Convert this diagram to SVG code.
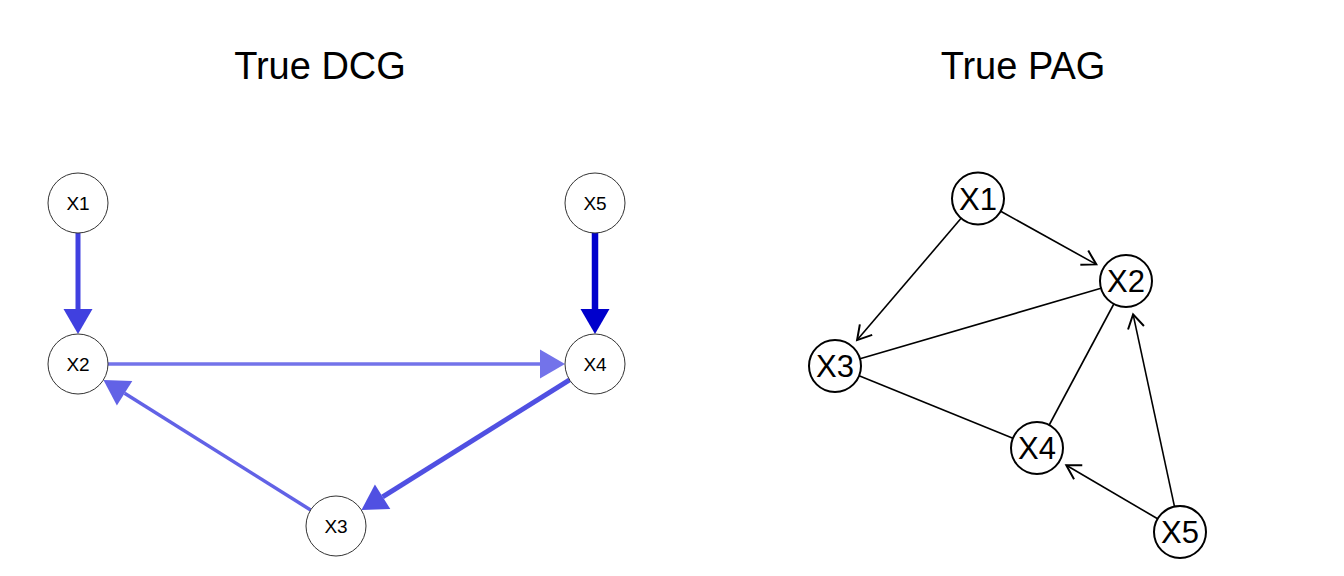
<svg xmlns="http://www.w3.org/2000/svg" width="1344" height="576" viewBox="0 0 1344 576">
<style>
text{font-family:"Liberation Sans",Arial,sans-serif;fill:#000;text-anchor:middle}
.title{font-size:38px}
.ln{font-size:19px}
.rn{font-size:31px}
.lc{fill:#fff;stroke:#333;stroke-width:1}
.rc{fill:#fff;stroke:#000;stroke-width:2}
.pe{stroke:#000;stroke-width:1.6;fill:none}
</style>
<defs>
<marker id="ah1" markerUnits="userSpaceOnUse" markerWidth="30" markerHeight="30" viewBox="0 -15 25 30" refX="0" refY="0" orient="auto" overflow="visible"><path d="M0,-14.5 L25,0 L0,14.5 z" fill="#4040E0"/></marker>
<marker id="ah2" markerUnits="userSpaceOnUse" markerWidth="30" markerHeight="30" viewBox="0 -15 25 30" refX="0" refY="0" orient="auto" overflow="visible"><path d="M0,-14.5 L25,0 L0,14.5 z" fill="#0000CC"/></marker>
<marker id="ah3" markerUnits="userSpaceOnUse" markerWidth="30" markerHeight="30" viewBox="0 -15 25 30" refX="0" refY="0" orient="auto" overflow="visible"><path d="M0,-14.5 L25,0 L0,14.5 z" fill="#7373EA"/></marker>
<marker id="ah4" markerUnits="userSpaceOnUse" markerWidth="30" markerHeight="30" viewBox="0 -15 25 30" refX="0" refY="0" orient="auto" overflow="visible"><path d="M0,-14.5 L25,0 L0,14.5 z" fill="#5050E2"/></marker>
<marker id="ah5" markerUnits="userSpaceOnUse" markerWidth="30" markerHeight="30" viewBox="0 -15 25 30" refX="0" refY="0" orient="auto" overflow="visible"><path d="M0,-14.5 L25,0 L0,14.5 z" fill="#6262E6"/></marker>
<marker id="open" markerUnits="userSpaceOnUse" markerWidth="20" markerHeight="20" viewBox="-12 -8 14 16" refX="0" refY="0" orient="auto" overflow="visible"><path d="M-11,-6.5 L0,0 L-11,6.5" fill="none" stroke="#000" stroke-width="1.6"/></marker>
</defs>
<rect width="1344" height="576" fill="#fff"/>
<text class="title" x="320" y="79">True DCG</text>
<text class="title" x="1023" y="79">True PAG</text>
<g id="connectors">
<line x1="78" y1="233" x2="78" y2="309" stroke="#4040E0" stroke-width="5" marker-end="url(#ah1)"/>
<line x1="595" y1="233" x2="595" y2="309" stroke="#0000CC" stroke-width="6.5" marker-end="url(#ah2)"/>
<line x1="108" y1="364" x2="540" y2="364" stroke="#7373EA" stroke-width="3.5" marker-end="url(#ah3)"/>
<line x1="569.6" y1="379.9" x2="382.6" y2="496.8" stroke="#5050E2" stroke-width="5" marker-end="url(#ah4)"/>
<line x1="310.6" y1="510" x2="124.6" y2="393.3" stroke="#6262E6" stroke-width="3.5" marker-end="url(#ah5)"/>
<line class="pe" x1="1000.7" y1="211.2" x2="1096.3" y2="264.4" marker-end="url(#open)"/>
<line class="pe" x1="961.1" y1="218.3" x2="857.1" y2="340.1" marker-end="url(#open)"/>
<line class="pe" x1="1174.5" y1="506.6" x2="1133.1" y2="314.3" marker-end="url(#open)"/>
<line class="pe" x1="1157.6" y1="518.8" x2="1066.3" y2="465.2" marker-end="url(#open)"/>
<line class="pe" x1="1101" y1="288.3" x2="860" y2="358.7"/>
<line class="pe" x1="1113.8" y1="304" x2="1049.2" y2="425"/>
<line class="pe" x1="859.1" y1="375.8" x2="1012.9" y2="438.2"/>
</g>
<g id="L_X1"><circle class="lc" cx="78" cy="203" r="30"/><text class="ln" x="78" y="209.8">X1</text></g>
<g id="L_X2"><circle class="lc" cx="78" cy="364" r="30"/><text class="ln" x="78" y="370.8">X2</text></g>
<g id="L_X3"><circle class="lc" cx="336" cy="526" r="30"/><text class="ln" x="336" y="532.8">X3</text></g>
<g id="L_X4"><circle class="lc" cx="595" cy="364" r="30"/><text class="ln" x="595" y="370.8">X4</text></g>
<g id="L_X5"><circle class="lc" cx="595" cy="203" r="30"/><text class="ln" x="595" y="209.8">X5</text></g>
<g id="R_X1"><circle class="rc" cx="978" cy="198.5" r="26"/><text class="rn" x="978" y="209.5">X1</text></g>
<g id="R_X2"><circle class="rc" cx="1126" cy="281" r="26"/><text class="rn" x="1126" y="292">X2</text></g>
<g id="R_X3"><circle class="rc" cx="835" cy="366" r="26"/><text class="rn" x="835" y="377">X3</text></g>
<g id="R_X4"><circle class="rc" cx="1037" cy="448" r="26"/><text class="rn" x="1037" y="459">X4</text></g>
<g id="R_X5"><circle class="rc" cx="1180" cy="532" r="26"/><text class="rn" x="1180" y="543">X5</text></g>
</svg>
